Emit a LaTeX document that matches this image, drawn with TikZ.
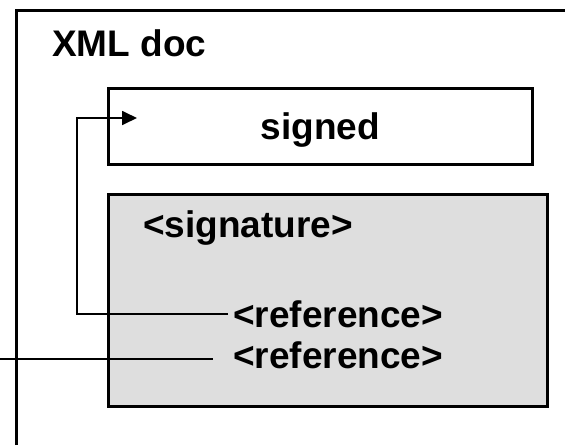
\documentclass[tikz,border=0pt]{standalone}
\usepackage{fontspec}
\setmainfont{Liberation Sans}
\usetikzlibrary{arrows.meta}
\tikzset{box/.style={draw, line width=2.5pt, inner sep=0pt, anchor=north west},
	txt/.style={inner sep=0pt, anchor=base west},
	link/.style={line width=1.8pt},
}

\begin{document}
\begin{tikzpicture}[x=1pt, y=-1pt, font=\bfseries\fontsize{37}{42}\selectfont]
		\path [use as bounding box, fill=white] (0,0) rectangle (565,445);
		%\draw[very thin, gray!50] (0,0) grid[step=50] (565,445);
		\coordinate (docnw) at (16,10);
		\draw[line width=3pt] (docnw |- 0,445) -- (docnw) -- (565,10);% doc frame, runs off the page
		\node[txt] at (52,56) (title) {XML doc};
		\node[box, text depth=0pt, minimum width=424, minimum height=76] at (107,87) (signed) {signed};
		\node[box, fill=black!13, minimum width=439, minimum height=212] at (107,193) (sig) {};
		\node[txt] at (143,237) (sigtxt) {<signature>};
		\node[txt] at (233,327) (ref1) {<reference>};
		\node[txt] at (233,368) (ref2) {<reference>};
		\coordinate (sin) at (137,118);% arrow tip inside signed
		\coordinate (ext) at (0,359);
		\draw[link, -{Triangle[length=15pt, width=14pt]}] ([xshift=-5pt]ref1.west) -| ([xshift=-60pt]sin) -- (sin);
		\draw[link, shorten >=20pt] (ext) -- (ext -| ref2.west);
	\end{tikzpicture}
\end{document}
